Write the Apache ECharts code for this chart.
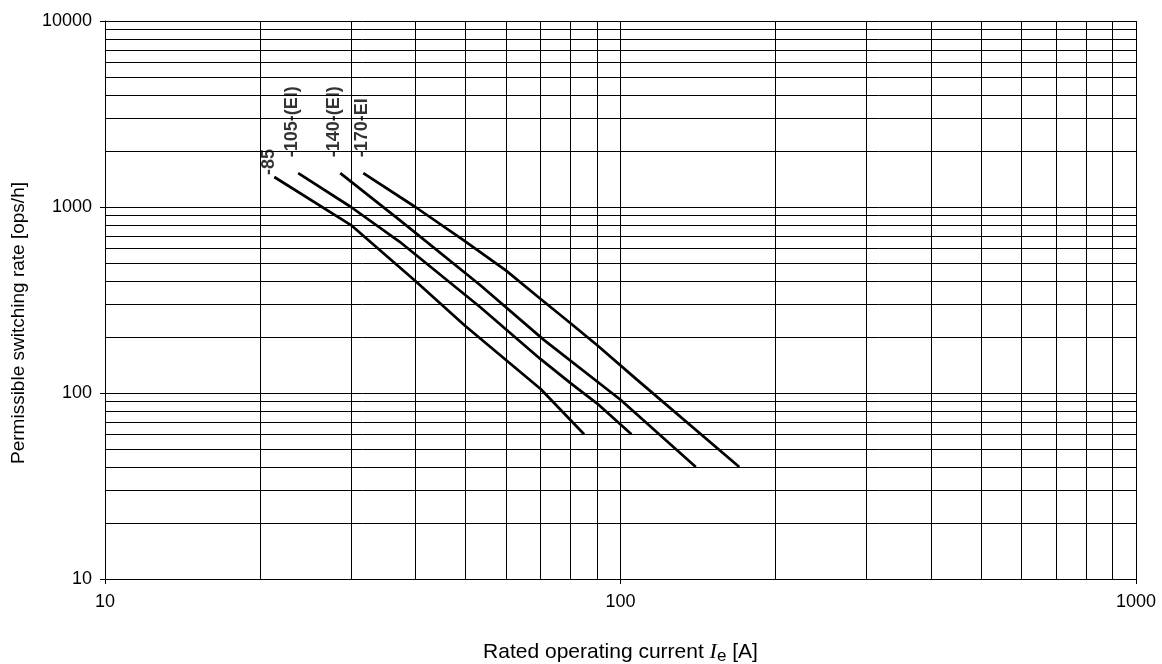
<!DOCTYPE html>
<html>
<head>
<meta charset="utf-8">
<script src="https://cdn.jsdelivr.net/npm/echarts@6/dist/echarts.min.js"></script>
<style>
  html, body { margin: 0; padding: 0; background: #fff; }
  #chart { width: 1162px; height: 664px; }
</style>
</head>
<body>
<div id="chart"></div>
<script>
// rated operating current [A] and permissible switching rate [ops/h] per contactor size
const cur85 = [21.3, 30, 40, 50, 70, 85];
const rate85 = [1450, 800, 400, 229, 105, 60];
const cur105 = [23.7, 30, 37.3, 53.4, 70, 80, 90, 105];
const rate105 = [1520, 1000, 650, 290, 152, 113, 88, 60];
const cur140 = [28.6, 37.3, 53.4, 71, 100, 140];
const rate140 = [1520, 850, 381, 193, 92, 40];
const cur170 = [31.7, 40, 49.5, 60, 70, 80, 90, 107.6, 170];
const rate170 = [1520, 1000, 665, 455, 320, 237, 181, 118, 40];
const names = ['-85', '-105-(EI)', '-140-(EI)', '-170-EI'];

// minor grid lines (2..9 of every decade)
const xMinor = [20, 30, 40, 50, 60, 70, 80, 90, 200, 300, 400, 500, 600, 700, 800, 900];
const yMinor = [20, 30, 40, 50, 60, 70, 80, 90, 200, 300, 400, 500, 600, 700, 800, 900,
                2000, 3000, 4000, 5000, 6000, 7000, 8000, 9000];

const font = 'Arial, "Liberation Sans", sans-serif';
const curves = [[cur85, rate85], [cur105, rate105], [cur140, rate140], [cur170, rate170]];
// where each rotated label sits relative to the curve start
const labelPos = [[-5, -2], [-6, -16], [-6, -16], [-1, -16]];

const chart = echarts.init(document.getElementById('chart'));

const series = [{
  type: 'line',
  data: [],
  silent: true,
  z: 1,
  markLine: {
    silent: true,
    symbol: 'none',
    animation: false,
    label: { show: false },
    lineStyle: { color: '#000', width: 1, type: 'solid' },
    data: xMinor.map(v => ({ xAxis: v })).concat(yMinor.map(v => ({ yAxis: v })))
  }
}];

curves.forEach((c, i) => {
  series.push({
    type: 'line',
    name: names[i],
    z: 5,
    showSymbol: false,
    symbol: 'none',
    lineStyle: { color: '#000', width: 2.7 },
    data: c[0].map((x, k) => [x, c[1][k]])
  });
  series.push({
    type: 'scatter',
    z: 6,
    symbolSize: 0,
    silent: true,
    data: [[c[0][0], c[1][0]]],
    label: {
      show: true,
      formatter: names[i],
      position: labelPos[i],
      rotate: 90,
      align: 'left',
      verticalAlign: 'middle',
      color: '#000',
      fontWeight: 'bold',
      fontSize: 18,
      fontFamily: font
    }
  });
});

const options = {
  animation: false,
  backgroundColor: '#fff',
  grid: { left: 105, right: 26, top: 21, bottom: 85, containLabel: false, outerBoundsMode: 'none' },
  xAxis: {
    type: 'log',
    logBase: 10,
    min: 10,
    max: 1000,
    name: 'Rated operating current {i|I}{s|e} [A]',
    nameLocation: 'middle',
    nameGap: 60,
    nameTextStyle: {
      color: '#000', fontSize: 21, fontFamily: font,
      rich: {
        i: { fontFamily: '"Liberation Serif", "Times New Roman", serif', fontStyle: 'italic', fontSize: 22, color: '#000' },
        s: { fontSize: 17, fontFamily: font, color: '#000', padding: [9, 0, 0, 0] }
      }
    },
    axisLine: { show: true, lineStyle: { color: '#000', width: 1 } },
    axisTick: { show: true, length: 5, lineStyle: { color: '#000' } },
    axisLabel: {
      color: '#000', fontSize: 18, fontFamily: font, margin: 14,
      formatter: v => String(Math.round(v))
    },
    splitLine: { show: true, lineStyle: { color: '#000', width: 1 } }
  },
  yAxis: {
    type: 'log',
    logBase: 10,
    min: 10,
    max: 10000,
    name: 'Permissible switching rate [ops/h]',
    nameLocation: 'middle',
    nameGap: 77,
    nameTextStyle: { color: '#000', fontSize: 19, fontFamily: font, padding: [0, 46, 0, 0] },
    axisLine: { show: true, lineStyle: { color: '#000', width: 1 } },
    axisTick: { show: true, length: 5, lineStyle: { color: '#000' } },
    axisLabel: {
      color: '#000', fontSize: 18, fontFamily: font, margin: 13,
      formatter: v => String(Math.round(v))
    },
    splitLine: { show: true, lineStyle: { color: '#000', width: 1 } }
  },
  series: series
};

chart.setOption(options);
</script>
</body>
</html>
